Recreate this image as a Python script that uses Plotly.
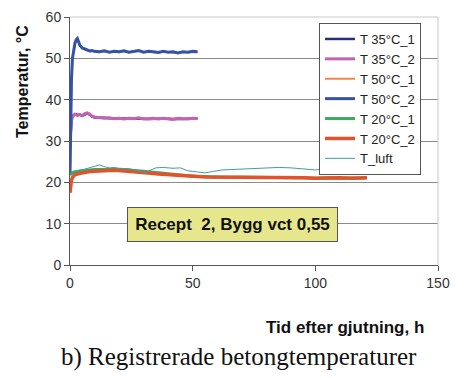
import plotly.graph_objects as go

# ---- data ----
t_a = [0, 0.3, 0.6, 1, 1.5, 2, 2.5, 3, 3.5, 4, 5, 6, 7, 8, 9, 10, 12, 14, 16, 18,
       20, 22, 24, 26, 28, 30, 32, 34, 36, 38, 40, 42, 44, 46, 48, 50, 52]
T35_1 = [29, 32.5, 34.8, 35.9, 36.3, 36.4, 36.5, 36.2, 36.3, 36.4, 36.1, 36.5, 36.7, 36.4, 35.9,
         35.7, 35.7, 35.6, 35.5, 35.5, 35.4, 35.4, 35.4, 35.5, 35.5, 35.4, 35.3, 35.4, 35.4, 35.4,
         35.3, 35.3, 35.4, 35.3, 35.4, 35.4, 35.5]
T35_2 = [30, 33, 35, 36, 36.4, 36.5, 36.4, 36.3, 36.4, 36.3, 36.2, 36.6, 36.8, 36.5, 36.0,
         35.8, 35.6, 35.5, 35.6, 35.4, 35.5, 35.3, 35.5, 35.4, 35.6, 35.3, 35.4, 35.5, 35.3, 35.5,
         35.4, 35.2, 35.5, 35.4, 35.3, 35.5, 35.4]
T50_1 = [22, 35, 45, 50, 52.5, 53.5, 54.4, 54.7, 53.9, 53.1, 52.4, 52.1, 51.9, 51.7, 51.8,
         51.6, 51.5, 51.7, 51.5, 51.6, 51.5, 51.7, 51.5, 51.6, 51.8, 51.5, 51.6, 51.5, 51.4, 51.6,
         51.5, 51.5, 51.3, 51.5, 51.5, 51.6, 51.5]
T50_2 = [22, 35, 45, 50, 52.5, 53.6, 54.5, 54.8, 54.0, 53.2, 52.5, 52.2, 52.0, 51.8, 51.9,
         51.7, 51.6, 51.8, 51.5, 51.7, 51.6, 51.8, 51.5, 51.7, 51.9, 51.5, 51.7, 51.6, 51.4, 51.7,
         51.5, 51.6, 51.3, 51.6, 51.5, 51.7, 51.6]

t_b = [0, 0.3, 0.6, 1, 2, 3, 4, 6, 8, 10, 12, 15, 18, 21, 24, 27, 30, 33, 36, 40,
       44, 48, 52, 56, 60, 65, 70, 75, 80, 85, 90, 95, 100, 105, 110, 115, 120, 121]
T20_1 = [21.8, 22.0, 22.2, 22.3, 22.5, 22.6, 22.7, 22.8, 23.0, 23.1, 23.1, 23.2, 23.2, 23.1, 23.0,
         22.9, 22.7, 22.5, 22.3, 22.0, 21.9, 21.6, 21.4, 21.3, 21.3, 21.2, 21.2, 21.2, 21.2, 21.1,
         21.2, 21.1, 21.0, 21.1, 21.0, 21.0, 21.1, 21.1]
T20_2 = [17.5, 19.5, 20.5, 21.2, 21.8, 22.0, 22.2, 22.4, 22.6, 22.7, 22.8, 22.9, 22.9, 22.8, 22.7,
         22.6, 22.4, 22.2, 22.0, 21.8, 21.7, 21.5, 21.4, 21.3, 21.3, 21.2, 21.2, 21.3, 21.2, 21.1,
         21.2, 21.1, 21.0, 21.1, 21.1, 21.0, 21.1, 21.1]

t_c = [0, 2, 4, 6, 8, 10, 12, 14, 16, 18, 20, 24, 28, 31, 33, 35, 38, 42, 45, 48,
       52, 55, 58, 62, 66, 70, 75, 80, 85, 90, 95, 100, 105, 110, 115, 119, 121, 122]
T_luft = [22.5, 22.8, 23.0, 23.2, 23.5, 23.8, 24.2, 23.8, 23.5, 23.6, 23.4, 23.3, 22.8, 22.3, 23.0,
          23.5, 23.6, 23.4, 23.5, 22.8, 22.5, 22.3, 22.6, 23.0, 23.1, 23.2, 23.4, 23.5, 23.6, 23.5,
          23.3, 23.0, 23.3, 23.5, 23.5, 23.5, 22.8, 22.4]

x_ticks = [0, 50, 100, 150]
y_ticks = [0, 10, 20, 30, 40, 50, 60]

series = [
    ("T 35°C_1", t_a, T35_1, "#2a2f7c", 2.5),
    ("T 35°C_2", t_a, T35_2, "#c462b4", 3),
    ("T 50°C_1", t_a, T50_1, "#f0884e", 2),
    ("T 50°C_2", t_a, T50_2, "#3553a6", 3),
    ("T 20°C_1", t_b, T20_1, "#3aaa5c", 3),
    ("T 20°C_2", t_b, T20_2, "#e4522c", 3.5),
    ("T_luft", t_c, T_luft, "#3e9ea0", 1),
]

SANS = "Liberation Sans, Arial, sans-serif"
# page has an 8px body margin: figure is sized/placed to compensate
OFF = 8
W, H = 469 - OFF, 378 - OFF
L, R, T, B = 62, 31, 9, 113
pw, ph = W - L - R, H - T - B


def px(x):  # page pixel -> paper x
    return (x - OFF - L) / pw


def py(y):  # page pixel -> paper y
    return (H - B - (y - OFF)) / ph


fig = go.Figure()
for name, xs, ys, col, w in series:
    fig.add_trace(go.Scatter(x=xs, y=ys, name=name, mode="lines",
                             line=dict(color=col, width=w)))

fig.update_layout(
    template="none",
    width=W, height=H,
    margin=dict(l=L, r=R, t=T, b=B),
    paper_bgcolor="white", plot_bgcolor="white",
    font=dict(family=SANS, size=14, color="#333"),
    showlegend=True,
    legend=dict(x=px(319), y=py(23), xanchor="left", yanchor="top",
                bgcolor="white", bordercolor="#555", borderwidth=1,
                font=dict(family=SANS, size=13, color="#222"),
                tracegroupgap=0, itemwidth=30),
    xaxis=dict(range=[0, 150], tickvals=x_ticks, showgrid=False, zeroline=False,
               showline=True, linecolor="#555", linewidth=1, mirror=False,
               ticks="outside", ticklen=5, tickcolor="#555", automargin=False,
               tickfont=dict(size=14, color="#333")),
    yaxis=dict(range=[0, 60], tickvals=y_ticks, showgrid=True, gridcolor="#8a8a8a",
               gridwidth=1, zeroline=False, showline=True, linecolor="#555", linewidth=1,
               ticks="outside", ticklen=5, tickcolor="#555", automargin=False,
               tickfont=dict(size=14, color="#333")),
    shapes=[
        dict(type="line", xref="paper", yref="paper", x0=0, x1=1, y0=1, y1=1,
             line=dict(color="#c8c8c8", width=1)),
        dict(type="line", xref="paper", yref="paper", x0=1, x1=1, y0=0, y1=1,
             line=dict(color="#c8c8c8", width=1)),
    ],
    annotations=[
        dict(x=66.2, y=9.8, xref="x", yref="y", text="<b>Recept  2, Bygg vct 0,55</b>",
             showarrow=False, bgcolor="#e6e68c", bordercolor="#555", borderwidth=1,
             borderpad=5, width=199, height=23,
             font=dict(family=SANS, size=17, color="#111")),
        dict(x=px(22), y=py(82), xref="paper", yref="paper", text="<b>Temperatur, °C</b>",
             textangle=-90, showarrow=False, font=dict(family=SANS, size=16, color="#111"),
             xanchor="center", yanchor="middle"),
        dict(x=px(345), y=py(327), xref="paper", yref="paper", text="<b>Tid efter gjutning, h</b>",
             showarrow=False, font=dict(family=SANS, size=17, color="#111"),
             xanchor="center", yanchor="middle"),
        dict(x=px(239), y=py(357), xref="paper", yref="paper",
             text="b) Registrerade betongtemperaturer",
             showarrow=False, font=dict(family="Liberation Serif, Times New Roman, serif",
                                        size=25, color="#111"),
             xanchor="center", yanchor="middle"),
    ],
)

fig.write_html("out.html")
